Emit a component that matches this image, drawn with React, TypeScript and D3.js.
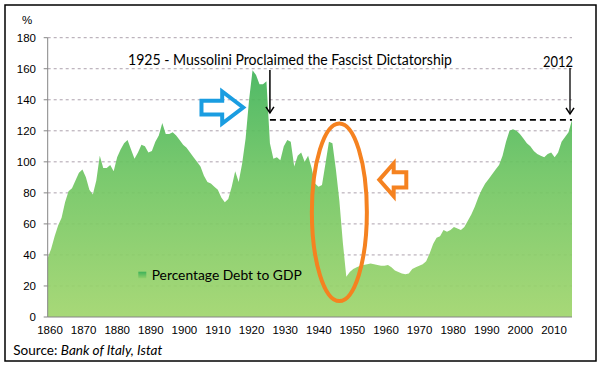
import React from "react";
import * as d3 from "d3";

const startYear = 1861;
const debt: number[] = [
  38, 44, 52, 59, 64, 74, 81, 83, 88, 93, // 1861-1870
  95, 90, 82, 79, 88, 104, 96, 96, 98, 94, // 1871-1880
  103, 108, 112, 114, 108, 102, 106, 111, 110, 106, // 1881-1890
  107, 113, 117, 125, 118, 118, 119, 117, 114, 111, // 1891-1900
  109, 106, 103, 100, 97, 91, 87, 86, 84, 82, // 1901-1910
  77, 74, 76, 84, 94, 87, 99, 115, 140, 159, // 1911-1920
  156, 150, 150, 152, 112, 102, 103, 101, 110, 114, // 1921-1930
  113, 97, 104, 106, 100, 104, 96, 86, 84, 85, // 1931-1940
  99, 113, 112, 95, 75, 48, 26, 29, 31, 32, // 1941-1950
  33, 33.5, 34, 34.5, 34, 33.5, 33, 33, 33.5, 32, // 1951-1960
  30, 29, 28, 27.5, 28, 31, 32, 33, 34, 36, // 1961-1970
  41, 47, 51, 52, 56, 55, 56, 58, 57, 56, // 1971-1980
  58, 62, 66, 71, 77, 82, 86, 89, 92, 95, // 1981-1990
  98, 104, 113, 120, 121, 120, 118, 115, 112, 110, // 1991-2000
  107, 105, 104, 103, 105, 106, 103, 106, 113, 116, // 2001-2010
  119, 127, // 2011-2012
];
const years: number[] = debt.map((_, i) => startYear + i);
const yTicks: number[] = [0, 20, 40, 60, 80, 100, 120, 140, 160, 180];
const xTickLabels: number[] = [1860, 1870, 1880, 1890, 1900, 1910, 1920, 1930, 1940, 1950, 1960, 1970, 1980, 1990, 2000, 2010];
const titleText = "1925 - Mussolini Proclaimed the Fascist Dictatorship";
const eventYear = 1925;
const lastYear = 2012;
const seriesName = "Percentage Debt to GDP";

export default function App() {
  const W = 605, H = 368;
  const left = 47.7, right = 572, top = 37.7, bottom = 317;
  const x = d3.scaleLinear().domain([years[0], years[years.length - 1]]).range([left, right]);
  const y = d3.scaleLinear().domain([0, 180]).range([bottom, top]);
  const xLabel = d3.scaleLinear().domain([1860, 2010]).range([50, 554]);

  const area = d3.area<number>()
    .x((_, i) => x(years[i]))
    .y0(y(0))
    .y1((d) => y(d));

  const lastVal = debt[debt.length - 1];
  const evX = x(eventYear);
  const lastX = x(lastYear) - 2;
  const dashY = y(lastVal);

  // blue arrow (pointing right), anchored at tip
  const bt = [x(1917.3), y(135)];
  const blue = `M${bt[0] - 41.7},${bt[1] - 6.85} L${bt[0] - 21},${bt[1] - 6.85} L${bt[0] - 21},${bt[1] - 16} L${bt[0]},${bt[1]} L${bt[0] - 21},${bt[1] + 16} L${bt[0] - 21},${bt[1] + 6.85} L${bt[0] - 41.7},${bt[1] + 6.85} Z`;
  // orange arrow (pointing left)
  const ot = [x(1956.5), y(88.4)];
  const orange = `M${ot[0] + 27},${ot[1] - 7.65} L${ot[0] + 14.4},${ot[1] - 7.65} L${ot[0] + 14.4},${ot[1] - 16.3} L${ot[0]},${ot[1]} L${ot[0] + 14.4},${ot[1] + 16.3} L${ot[0] + 14.4},${ot[1] + 7.65} L${ot[0] + 27},${ot[1] + 7.65} Z`;

  const font = "Lato, 'Open Sans', sans-serif";
  const axisFont = "'Liberation Sans', Arial, sans-serif";

  return (
    <svg width={W} height={H} style={{ position: "absolute", left: 0, top: 0, background: "#fff" }}>
      <defs>
        <linearGradient id="g" gradientUnits="userSpaceOnUse" x1={0} y1={y(165)} x2={0} y2={y(0)}>
          <stop offset="0" stopColor="#3db259" />
          <stop offset="0.45" stopColor="#6fc562" />
          <stop offset="1" stopColor="#a0d56c" />
        </linearGradient>
        <linearGradient id="lg" x1="0" y1="0" x2="0" y2="1">
          <stop offset="0" stopColor="#3db259" />
          <stop offset="1" stopColor="#8fd06a" />
        </linearGradient>
      </defs>
      <rect x={5} y={5} width={591} height={356} fill="#fff" stroke="#000" strokeWidth={1.5} />

      {yTicks.filter((t) => t > 0).map((t) => (
        <line key={t} x1={left} x2={right} y1={y(t)} y2={y(t)} stroke="#ada2ad" strokeDasharray="3,3" strokeWidth={1} />
      ))}

      <path d={area(debt) || ""} fill="url(#g)" fillOpacity={0.92} />

      <line x1={left} x2={left} y1={top} y2={bottom} stroke="#868686" strokeWidth={1} />
      <line x1={left} x2={right} y1={bottom} y2={bottom} stroke="#868686" strokeWidth={1} />
      {yTicks.map((t) => (
        <g key={t}>
          <line x1={left - 4} x2={left} y1={y(t)} y2={y(t)} stroke="#868686" />
          <text x={36} y={y(t)} dy="0.35em" textAnchor="end" fontFamily={axisFont} fontSize={11.5} fill="#000">{t}</text>
        </g>
      ))}
      <text x={27} y={23.5} textAnchor="middle" fontFamily={axisFont} fontSize={11.5} fill="#000">%</text>

      {xTickLabels.map((t) => (
        <text key={t} x={xLabel(t)} y={334} textAnchor="middle" fontFamily={axisFont} fontSize={11.5} fill="#000">{t}</text>
      ))}

      <text x={128} y={65} fontFamily={font} fontSize={14.5} textLength={324} lengthAdjust="spacingAndGlyphs" fill="#000">{titleText}</text>
      <text x={543} y={67} fontFamily={font} fontSize={14.5} textLength={30} lengthAdjust="spacingAndGlyphs" fill="#000">{lastYear}</text>

      {/* 1925 arrow */}
      <line x1={evX} x2={evX} y1={70} y2={dashY - 7} stroke="#000" strokeWidth={1.5} />
      <path d={`M${evX - 4},${dashY - 13} L${evX},${dashY - 7} L${evX + 4},${dashY - 13}`} fill="none" stroke="#000" strokeWidth={1.5} />
      {/* 2012 arrow */}
      <line x1={lastX} x2={lastX} y1={68} y2={dashY - 6} stroke="#000" strokeWidth={1.3} />
      <path d={`M${lastX - 4},${dashY - 12} L${lastX},${dashY - 6} L${lastX + 4},${dashY - 12}`} fill="none" stroke="#000" strokeWidth={1.5} />
      <line x1={evX} x2={x(lastYear)} y1={dashY} y2={dashY} stroke="#000" strokeWidth={1.8} strokeDasharray="6,4" />

      <path d={blue} fill="none" stroke="#1a9de1" strokeWidth={4} strokeLinejoin="miter" />
      <ellipse cx={x(1945)} cy={y(67.5)} rx={27.5} ry={88.8} fill="none" stroke="#f58220" strokeWidth={4} />
      <path d={orange} fill="none" stroke="#f58220" strokeWidth={4} strokeLinejoin="miter" />

      <rect x={138.3} y={271.7} width={8} height={6.6} fill="url(#lg)" />
      <text x={151.7} y={280} fontFamily={font} fontSize={14} textLength={150} lengthAdjust="spacingAndGlyphs" fill="#000">{seriesName}</text>

      <text x={13.3} y={355} fontFamily={font} fontSize={13.5} textLength={149} lengthAdjust="spacingAndGlyphs" fill="#000">
        Source: <tspan fontStyle="italic">Bank of Italy, Istat</tspan>
      </text>
    </svg>
  );
}
